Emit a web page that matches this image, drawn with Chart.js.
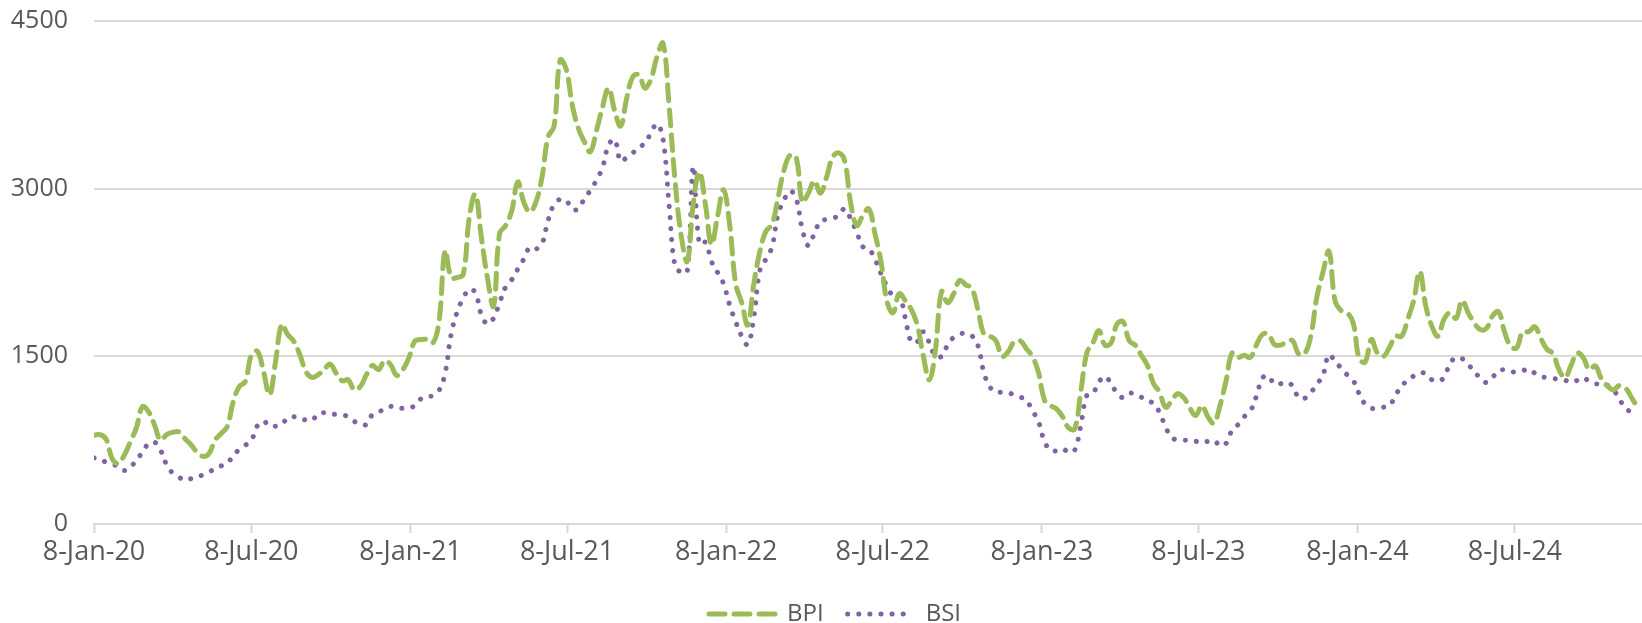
<!DOCTYPE html>
<html lang="en">
<head>
<meta charset="UTF-8">
<title>BPI vs BSI</title>
<script src="https://cdn.jsdelivr.net/npm/chart.js@4"></script>
<style>
    html, body { margin: 0; padding: 0; background: #fff; }
    .wrap { width: 1642px; height: 623px; position: relative; }
</style>
</head>
<body>
<div class="wrap"><canvas id="chart"></canvas></div>
<script>
// weekly readings, first one on 8 Jan 2020
const startDate = '2020-01-08';
const axisEnd = '2024-12-02';

const bpi = [
    795, 800, 760, 585, 540, 615, 735, 860, 1050, 1005,
    885, 750, 800, 820, 825, 765, 710, 645, 605, 630,
    750, 810, 870, 1095, 1230, 1275, 1515, 1545, 1365, 1155,
    1455, 1785, 1695, 1635, 1515, 1365, 1311, 1335, 1380, 1431,
    1350, 1281, 1290, 1200, 1230, 1335, 1419, 1380, 1461, 1425,
    1329, 1380, 1485, 1635, 1650, 1650, 1620, 1815, 2445, 2205,
    2205, 2235, 2745, 2950, 2560, 2200, 1950, 2600, 2670, 2800,
    3060, 2880, 2790, 2880, 3100, 3460, 3560, 4150, 4070, 3750,
    3540, 3420, 3330, 3520, 3730, 3900, 3700, 3560, 3810, 4000,
    4020, 3900, 3980, 4180, 4300, 3740, 3060, 2580, 2350, 2870,
    3150, 2860, 2500, 2750, 2990, 2680, 2150, 1980, 1780, 2150,
    2440, 2620, 2680, 2920, 3170, 3300, 3280, 2880, 2960, 3070,
    2960, 3100, 3280, 3320, 3250, 2870, 2670, 2760, 2820, 2600,
    2350, 1990, 1890, 2060, 2000, 1920, 1780, 1500, 1290, 1560,
    2080, 1980, 2060, 2180, 2140, 2110, 1920, 1700, 1680, 1640,
    1500, 1540, 1630, 1640, 1570, 1500, 1360, 1110, 1060, 1030,
    960, 860, 850, 1180, 1530, 1620, 1730, 1600, 1620, 1790,
    1810, 1640, 1600, 1510, 1420, 1260, 1180, 1045, 1100, 1165,
    1130, 1040, 970, 1060, 960, 900, 1060, 1280, 1530, 1490,
    1510, 1490, 1600, 1695, 1700, 1605, 1600, 1630, 1640, 1520,
    1525, 1680, 2030, 2250, 2440, 2000, 1910, 1890, 1800, 1480,
    1450, 1650, 1530, 1500, 1580, 1680, 1680, 1830, 2000, 2260,
    1950, 1770, 1680, 1830, 1890, 1840, 2000, 1890, 1800, 1740,
    1750, 1860, 1900, 1720, 1590, 1575, 1720, 1720, 1765, 1660,
    1565, 1525, 1380, 1310, 1420, 1530, 1490, 1380, 1415, 1300,
    1235, 1200, 1240, 1215, 1130, 1040
];

const bsi = [
    591, 570, 555, 535, 515, 478, 505, 575, 640, 720,
    733, 660, 530, 455, 420, 392, 405, 420, 440, 465,
    495, 520, 540, 615, 665, 705, 750, 880, 920, 875,
    875, 890, 950, 960, 945, 930, 925, 985, 995, 985,
    980, 975, 960, 918, 895, 890, 980, 1000, 1030, 1052,
    1045, 1034, 1040, 1058, 1120, 1143, 1146, 1195, 1350, 1700,
    1900, 2020, 2100, 2070, 1870, 1790, 1840, 1980, 2120, 2185,
    2280, 2370, 2475, 2460, 2505, 2715, 2860, 2905, 2895, 2815,
    2820, 2910, 2985, 3075, 3190, 3390, 3440, 3245, 3280, 3320,
    3370, 3405, 3500, 3580, 3445, 2850, 2300, 2255, 2255, 3200,
    2505, 2520, 2350, 2250, 2150, 1960, 1810, 1680, 1605, 1850,
    2270, 2370, 2480, 2770, 2900, 2980, 2910, 2640, 2490, 2600,
    2710, 2725, 2735, 2760, 2820, 2730, 2610, 2480, 2460, 2370,
    2240, 2125, 2045, 2055, 1845, 1630, 1630, 1720, 1620, 1500,
    1500, 1600, 1670, 1700, 1705, 1685, 1600, 1355, 1225, 1180,
    1180, 1175, 1155, 1135, 1110, 1015, 920, 740, 660, 655,
    675, 640, 660, 880, 1150, 1170, 1270, 1320, 1255, 1170,
    1130, 1170, 1160, 1135, 1100, 1080, 1000, 870, 775, 752,
    750, 750, 740, 730, 740, 750, 700, 720, 840, 890,
    960, 1010, 1140, 1305, 1325, 1250, 1255, 1268, 1235, 1130,
    1125, 1175, 1250, 1330, 1515, 1455, 1395, 1335, 1285, 1165,
    1070, 1035, 1038, 1045, 1058, 1150, 1235, 1285, 1325, 1355,
    1342, 1290, 1280, 1310, 1435, 1490, 1480, 1430, 1360, 1310,
    1265, 1310, 1370, 1380, 1360, 1365, 1372, 1385, 1350, 1320,
    1310, 1302, 1295, 1285, 1270, 1285, 1310, 1275, 1255, 1252,
    1240, 1200, 1115, 1035, 1000, 980
];

const tickDates = ['2020-01-08', '2020-07-08', '2021-01-08', '2021-07-08', '2022-01-08',
                   '2022-07-08', '2023-01-08', '2023-07-08', '2024-01-08', '2024-07-08'];
const tickLabels = ['8-Jan-20', '8-Jul-20', '8-Jan-21', '8-Jul-21', '8-Jan-22',
                    '8-Jul-22', '8-Jan-23', '8-Jul-23', '8-Jan-24', '8-Jul-24'];

const DAY = 86400000;
const dayOf = s => (Date.parse(s) - Date.parse(startDate)) / DAY;
const tickDays = tickDates.map(dayOf);
const weekly = arr => arr.map((v, i) => ({ x: i * 7, y: v }));

const grey = '#595959';
const gridGrey = '#d9d9d9';
const fontFamily = "'Open Sans', sans-serif";

// the legend sits a little right of the canvas centre in the original
const legendNudge = {
    id: 'legendNudge',
    afterLayout(chart) {
        chart.legend.left += 14;
        chart.legend.right += 14;
    }
};

new Chart(document.getElementById('chart'), {
    type: 'line',
    data: {
        datasets: [
            {
                label: 'BPI', data: weekly(bpi),
                borderColor: '#9bbb59', backgroundColor: '#9bbb59',
                borderWidth: 5, borderDash: [16, 9], borderCapStyle: 'round',
                pointRadius: 0, tension: 0.4, fill: false
            },
            {
                label: 'BSI', data: weekly(bsi),
                borderColor: '#8064a2', backgroundColor: '#8064a2',
                borderWidth: 5, borderDash: [0.1, 11], borderCapStyle: 'round',
                pointRadius: 0, tension: 0.4, fill: false
            }
        ]
    },
    plugins: [legendNudge],
    options: {
        responsive: true,
        maintainAspectRatio: false,
        animation: false,
        layout: { padding: { left: 0, right: 0, top: 21, bottom: -13 } },
        plugins: {
            tooltip: { enabled: false },
            legend: {
                position: 'bottom',
                labels: {
                    usePointStyle: true,
                    pointStyleWidth: 66,
                    padding: 24,
                    color: grey,
                    font: { family: fontFamily, size: 24 },
                    generateLabels: chart => chart.data.datasets.map((ds, i) => ({
                        text: ds.label,
                        datasetIndex: i,
                        hidden: false,
                        pointStyle: 'line',
                        strokeStyle: ds.borderColor,
                        fillStyle: ds.borderColor,
                        lineWidth: ds.borderWidth,
                        lineDash: ds.borderDash,
                        lineCap: ds.borderCapStyle,
                        fontColor: grey
                    }))
                }
            }
        },
        scales: {
            x: {
                type: 'linear',
                min: 0,
                max: dayOf(axisEnd),
                afterBuildTicks: axis => { axis.ticks = tickDays.map(v => ({ value: v })); },
                afterFit: axis => { axis.height = 54; },
                ticks: {
                    autoSkip: false, maxRotation: 0, padding: 3,
                    color: grey, font: { family: fontFamily, size: 27 },
                    callback: (v, i) => tickLabels[i]
                },
                grid: { drawOnChartArea: false, drawTicks: true, tickLength: 9, tickWidth: 2, tickColor: gridGrey },
                border: { color: gridGrey, width: 2 }
            },
            y: {
                min: 0, max: 4500,
                afterFit: axis => {
                    axis.width = 94;
                    axis.paddingTop = 0;
                    axis.paddingBottom = 0;
                },
                ticks: {
                    stepSize: 1500, padding: 26, color: grey,
                    font: { family: fontFamily, size: 25 },
                    callback: v => String(v)
                },
                grid: { color: gridGrey, lineWidth: 2, drawTicks: false },
                border: { display: false }
            }
        }
    }
});
</script>
</body>
</html>
